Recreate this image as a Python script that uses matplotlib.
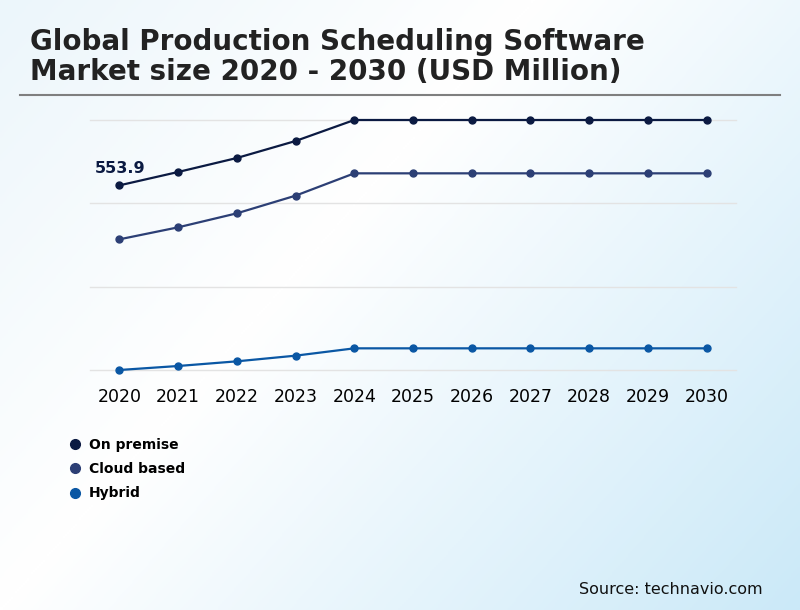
import numpy as np
import matplotlib
matplotlib.use('Agg')
import matplotlib.pyplot as plt
from matplotlib.colors import LinearSegmentedColormap

plt.rcParams['font.family'] = ['DejaVu Sans']

years = [2020, 2021, 2022, 2023, 2024, 2025, 2026, 2027, 2028, 2029, 2030]
on_premise = [553.9, 594, 636, 687, 750, 750, 750, 750, 750, 750, 750]
cloud_based = [392, 428, 470, 523, 590, 590, 590, 590, 590, 590, 590]
hybrid = [0, 12, 26, 43, 65, 65, 65, 65, 65, 65, 65]

series_names = ['On premise', 'Cloud based', 'Hybrid']
series_colors = ['#0b1a42', '#2c3f75', '#0a57a4']

fig = plt.figure(figsize=(8, 6.1), dpi=100)

# background gradient
bg = fig.add_axes([0, 0, 1, 1], zorder=-10)
xx, yy = np.meshgrid(np.linspace(0, 1, 400), np.linspace(0, 1, 300))
t = 0.6 * xx + 0.4 * yy
cmap = LinearSegmentedColormap.from_list('bg', [(0, '#ecf6fb'), (0.4, '#ffffff'), (1, '#cbe9f8')])
bg.imshow(t, cmap=cmap, aspect='auto', extent=[0, 1, 1, 0])
bg.axis('off')

fig.text(30/800, 1 - 50/610, 'Global Production Scheduling Software',
         fontsize=20, fontweight='bold', color='#222222', va='baseline', ha='left')
fig.text(30/800, 1 - 80/610, 'Market size 2020 - 2030 (USD Million)',
         fontsize=20, fontweight='bold', color='#222222', va='baseline', ha='left')
fig.add_artist(plt.Line2D([0.025, 0.975], [1 - 95/610, 1 - 95/610], color='#7f7f7f', lw=1.5))

ax = fig.add_axes([90/800, 1 - 370/610, (736 - 90)/800, (370 - 120)/610])
ax.patch.set_alpha(0)
for vals, name, col in zip([on_premise, cloud_based, hybrid], series_names, series_colors):
    ax.plot(years, vals, color=col, lw=1.6, marker='o', ms=5, label=name, zorder=3)
ax.annotate('553.9', (years[0], on_premise[0]), xytext=(-18, 9), textcoords='offset points',
            fontsize=11.5, fontweight='bold', color='#0b1a42')

ax.set_xlim(2019.5, 2030.5)
ax.set_ylim(0, 750)
ax.set_yticks([0, 250, 500, 750])
ax.set_yticklabels([])
ax.set_xticks(years)
ax.tick_params(axis='both', length=0)
ax.tick_params(axis='x', labelsize=12.5, pad=13)
ax.grid(axis='y', color='#e3e3e3', lw=1)
for gl in ax.get_ygridlines():
    gl.set_clip_on(False)
for s in ax.spines.values():
    s.set_visible(False)
for line in ax.lines:
    line.set_clip_on(False)

leg = fig.legend(loc='upper left', bbox_to_anchor=(0.082, 1 - 432/610), frameon=False,
                 handlelength=0.6, handletextpad=0.7, labelspacing=0.75, borderaxespad=0,
                 prop={'weight': 'bold', 'size': 10})
for h in leg.legend_handles:
    h.set_linestyle('none')
    h.set_markersize(7)

fig.text(763/800, 1 - 589/610, 'Source: technavio.com', fontsize=11.5, ha='right', va='center', color='#111111')

fig.savefig('out.png', dpi=100)
